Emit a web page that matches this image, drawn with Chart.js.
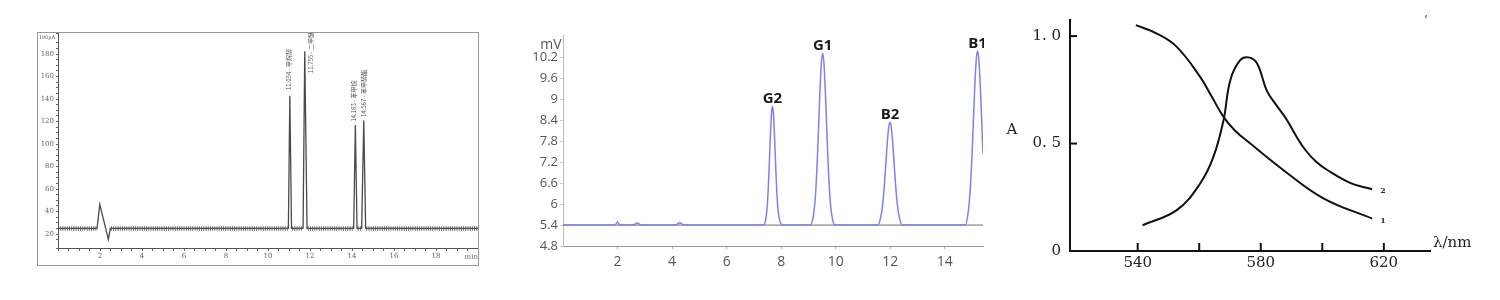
<!DOCTYPE html>
<html>
<head>
<meta charset="utf-8">
<script src="https://cdn.jsdelivr.net/npm/chart.js@4.4.1/dist/chart.umd.min.js"></script>
<style>
  body { margin: 0; width: 1500px; height: 300px; background: #fff; position: relative; overflow: hidden; }
  .box { position: absolute; }
  .frame { border: 1px solid #9a9a9a; box-sizing: border-box; }
</style>
</head>
<body>
<div class="box frame" style="left:37px;top:32px;width:442px;height:234px">
  <canvas id="c1" width="440" height="232"></canvas>
</div>
<div class="box" style="left:530px;top:20px;width:454px;height:260px">
  <canvas id="c2" width="454" height="260"></canvas>
</div>
<div class="box" style="left:1000px;top:0;width:500px;height:300px">
  <canvas id="c3" width="500" height="300"></canvas>
</div>
<script>
// ---- panel 1: FID chromatogram (pA vs min)
const fidTime   = [0, 1.86, 1.99, 2.40, 2.49, 10.97, 11.04, 11.12, 11.67, 11.75, 11.86, 14.08, 14.16, 14.24, 14.46, 14.56, 14.65, 20];
const fidSignal = [25, 25, 46.4, 15.3, 25, 25, 143, 25, 25, 182.5, 25, 25, 117, 25, 25, 121, 25, 25];
const bandStart = [0, 2.52, 11.15, 11.89, 14.27, 14.68];
const bandEnd   = [1.84, 10.94, 11.64, 14.05, 14.43, 20];
const bandLevel = 25;
const fidYTicksLabelled = [20, 40, 60, 80, 100, 120, 140, 160, 180];
const fidXTicksLabelled = [2, 4, 6, 8, 10, 12, 14, 16, 18];
const fidPeakNames = ['11.034 - 甲烷醇', '11.755 - 二甲醚', '14.183 - 苯甲烷', '14.567 - 苯甲醇酯'];
const fidLabelTime = [10.99, 12.03, 14.08, 14.56];
const fidLabelBase = [148, 163, 120, 124];

// ---- panel 2: UV chromatogram (mV)
const uvTime = [0, 1.9, 2.0, 2.08, 2.6, 2.72, 2.85, 3.4, 4.15, 4.28, 4.42, 5.0,
  7.36, 7.43, 7.48, 7.52, 7.56, 7.60, 7.64, 7.68, 7.72, 7.76, 7.80, 7.84, 7.89, 7.95, 8.05,
  9.07, 9.17, 9.25, 9.32, 9.37, 9.42, 9.47, 9.52, 9.57, 9.62, 9.67, 9.72, 9.79, 9.87, 9.97,
  11.54, 11.64, 11.72, 11.79, 11.84, 11.89, 11.94, 11.99, 12.04, 12.09, 12.14, 12.19, 12.26, 12.34, 12.44,
  14.75, 14.85, 14.93, 15.00, 15.05, 15.10, 15.15, 15.20, 15.25, 15.30, 15.35, 15.40];
const uvSignal = [5.4, 5.4, 5.49, 5.4, 5.41, 5.46, 5.41, 5.4, 5.41, 5.47, 5.41, 5.4,
  5.40, 5.55, 5.86, 6.35, 7.06, 7.88, 8.55, 8.81, 8.55, 7.88, 7.06, 6.35, 5.80, 5.52, 5.40,
  5.40, 5.62, 6.17, 7.18, 8.18, 9.22, 10.02, 10.33, 10.02, 9.22, 8.18, 7.18, 6.17, 5.62, 5.40,
  5.40, 5.59, 5.98, 6.61, 7.19, 7.76, 8.19, 8.35, 8.19, 7.76, 7.19, 6.61, 5.98, 5.59, 5.40,
  5.40, 5.73, 6.39, 7.45, 8.43, 9.40, 10.12, 10.40, 10.12, 9.40, 8.43, 7.45];
const uvBaseline = 5.4;
const uvYTicks = [4.8, 5.4, 6, 6.6, 7.2, 7.8, 8.4, 9, 9.6, 10.2];
const uvXTicks = [2, 4, 6, 8, 10, 12, 14];
const uvPeakNames = ['G2', 'G1', 'B2', 'B1'];
const uvPeakTime  = [7.68, 9.52, 11.99, 15.2];
const uvPeakTop   = [8.81, 10.33, 8.35, 10.40];

// ---- panel 3: absorption spectra
const curve1Nm = [539.4, 546.2, 552.7, 560.3, 564.0, 567.9, 571.5, 576.6, 587.4, 600.5, 616.2];
const curve1A  = [1.051, 1.012, 0.950, 0.810, 0.720, 0.624, 0.562, 0.500, 0.376, 0.244, 0.151];
const curve2Nm = [541.6, 552.7, 560.3, 564.6, 567.9, 570.1, 573.3, 576.0, 578.8, 582.0, 585.0, 588.5, 591.5, 594.5, 598.0, 601.6, 609.2, 616.2];
const curve2A  = [0.120, 0.190, 0.314, 0.438, 0.609, 0.795, 0.888, 0.901, 0.873, 0.745, 0.680, 0.610, 0.535, 0.470, 0.415, 0.377, 0.316, 0.287];
const specXTicks = [540, 560, 580, 600, 620];
const specXLabelled = [540, 580, 620];
const specYTicks = [0, 0.5, 1];
const specYLabels = ['0', '0. 5', '1. 0'];

const xy = (xs, ys) => xs.map((x, i) => ({ x, y: ys[i] }));
const fixBox = (w, h) => s => {
  if (w != null) s.width = w;
  if (h != null) s.height = h;
  s.paddingTop = s.paddingBottom = s.paddingLeft = s.paddingRight = 0;
};

// draws free text: data coords (data:true) or offsets from the chart area corner
const notes = {
  id: 'notes',
  afterDatasetsDraw(chart, args, opts) {
    const { ctx, chartArea, scales } = chart;
    (opts.items || []).forEach(it => {
      let px, py;
      if (it.data) {
        px = scales.x.getPixelForValue(it.x);
        py = scales.y.getPixelForValue(it.y);
      } else {
        px = (it.from === 'right' ? chartArea.right : chartArea.left) + it.x;
        py = (it.fromY === 'bottom' ? chartArea.bottom : chartArea.top) + it.y;
      }
      px += it.dx || 0; py += it.dy || 0;
      ctx.save();
      ctx.font = it.font;
      ctx.fillStyle = it.color || '#222';
      ctx.textAlign = it.align || 'center';
      ctx.textBaseline = it.baseline || 'alphabetic';
      ctx.translate(px, py);
      if (it.rotate) ctx.rotate(it.rotate);
      ctx.fillText(it.text, 0, 0);
      ctx.restore();
    });
  }
};

// tick marks pointing into the plot (panel 3)
const innerTicks = {
  id: 'innerTicks',
  afterDraw(chart) {
    const { ctx, chartArea, scales } = chart;
    ctx.save();
    ctx.strokeStyle = '#111';
    ctx.lineWidth = 2;
    scales.x.ticks.forEach(t => {
      const px = scales.x.getPixelForValue(t.value);
      ctx.beginPath(); ctx.moveTo(px, chartArea.bottom); ctx.lineTo(px, chartArea.bottom - 8); ctx.stroke();
    });
    scales.y.ticks.forEach(t => {
      if (t.value === 0) return;
      const py = scales.y.getPixelForValue(t.value);
      ctx.beginPath(); ctx.moveTo(chartArea.left, py); ctx.lineTo(chartArea.left + 7, py); ctx.stroke();
    });
    ctx.restore();
  }
};

const base = {
  responsive: false, animation: false, events: [],
};

// Panel 1
const band = [];
bandStart.forEach((s, i) => {
  band.push({ x: s, y: bandLevel }, { x: bandEnd[i], y: bandLevel }, { x: bandEnd[i], y: null });
});
const smallSerif = { family: 'DejaVu Serif', size: 7 };
new Chart(document.getElementById('c1'), {
  type: 'line',
  data: { datasets: [
    { data: band, borderColor: 'rgba(85,85,85,0.9)', borderWidth: 4.5, borderDash: [1, 1.2], pointRadius: 0, spanGaps: false },
    { data: xy(fidTime, fidSignal), borderColor: '#4a4a4a', borderWidth: 1.3, pointRadius: 0, tension: 0 },
  ]},
  options: {
    ...base,
    layout: { padding: { top: 0, right: 0, left: 0, bottom: 0 } },
    plugins: {
      legend: { display: false }, tooltip: { enabled: false },
      notes: { items: [
        { x: -3, y: 5, text: '190pA', font: '5px DejaVu Serif', color: '#555', align: 'right', baseline: 'middle' },
        { x: 0, y: 9, from: 'right', fromY: 'bottom', text: 'min', font: '7px DejaVu Serif', color: '#666', align: 'right', baseline: 'middle' },
        ...fidPeakNames.map((n, i) => ({ data: true, x: fidLabelTime[i], y: fidLabelBase[i], text: n,
          font: '6px "Noto Sans CJK SC"', color: '#555', align: 'left', baseline: 'middle', rotate: -Math.PI / 2 })),
      ]},
    },
    scales: {
      x: {
        type: 'linear', min: 0, max: 20, afterFit: fixBox(null, 17),
        ticks: { stepSize: 0.5, autoSkip: false, maxRotation: 0, padding: 1, color: '#666', font: smallSerif,
          callback: v => fidXTicksLabelled.includes(v) ? v : '' },
        grid: { drawOnChartArea: false, tickLength: 3, color: '#666' },
        border: { color: '#555' },
      },
      y: {
        min: 7.6, max: 198.7, afterFit: fixBox(20, null),
        ticks: { stepSize: 5, autoSkip: false, padding: 2, color: '#666', font: smallSerif,
          callback: v => fidYTicksLabelled.includes(v) ? v : '' },
        grid: { drawOnChartArea: false, tickLength: 2, color: '#666' },
        border: { color: '#555' },
      },
    },
  },
  plugins: [notes],
});

// Panel 2
new Chart(document.getElementById('c2'), {
  type: 'line',
  data: { datasets: [
    { data: xy(uvTime, uvSignal), borderColor: '#8080ec', borderWidth: 1.5, pointRadius: 0, cubicInterpolationMode: 'monotone' },
    { data: xy([0, 15.4], [uvBaseline, uvBaseline]), borderColor: 'rgba(60,60,60,0.75)', borderWidth: 1, pointRadius: 0 },
  ]},
  options: {
    ...base,
    layout: { padding: { top: 15, right: 1, left: 0, bottom: 0 } },
    plugins: {
      legend: { display: false }, tooltip: { enabled: false },
      notes: { items: [
        { x: -12, y: 10, text: 'mV', font: '14px "Open Sans"', color: '#555', align: 'center', baseline: 'middle' },
        ...uvPeakNames.map((n, i) => ({ data: true, x: uvPeakTime[i], y: uvPeakTop[i], dy: -3, text: n,
          font: 'bold 15px "Open Sans"', color: '#1a1a1a', align: 'center', baseline: 'alphabetic' })),
      ]},
    },
    scales: {
      x: {
        type: 'linear', min: 0, max: 15.4, afterFit: fixBox(null, 34),
        afterBuildTicks: s => { s.ticks = uvXTicks.map(v => ({ value: v })); },
        ticks: { padding: 5, maxRotation: 0, color: '#555', font: { family: 'Open Sans', size: 14 } },
        grid: { drawOnChartArea: false, tickLength: 3, color: '#aaa' },
        border: { color: '#999' },
      },
      y: {
        min: 4.8, max: 10.85, afterFit: fixBox(33, null),
        afterBuildTicks: s => { s.ticks = uvYTicks.map(v => ({ value: v })); },
        ticks: { padding: 2, color: '#555', font: { family: 'Open Sans', size: 13 },
          callback: v => String(Number(v.toFixed(1))) },
        grid: { drawOnChartArea: false, tickLength: 3, color: '#ccc' },
        border: { color: '#bbb' },
      },
    },
  },
  plugins: [notes],
});

// Panel 3
const serif = { family: 'DejaVu Serif', size: 15 };
new Chart(document.getElementById('c3'), {
  type: 'line',
  data: { datasets: [
    { data: xy(curve1Nm, curve1A), borderColor: '#111', borderWidth: 2, pointRadius: 0, tension: 0.4 },
    { data: xy(curve2Nm, curve2A), borderColor: '#111', borderWidth: 2, pointRadius: 0, tension: 0.4 },
  ]},
  options: {
    ...base,
    layout: { padding: { top: 20, right: 70, left: 0, bottom: 0 } },
    plugins: {
      legend: { display: false }, tooltip: { enabled: false },
      notes: { items: [
        { x: -58, y: 110, text: 'A', font: '15px "DejaVu Serif"', color: '#222', align: 'center', baseline: 'middle' },
        { x: 3, y: -8, from: 'right', fromY: 'bottom', text: 'λ/nm', font: '15px "DejaVu Serif"', color: '#222', align: 'left', baseline: 'middle' },
        { data: true, x: curve1Nm[curve1Nm.length - 1], y: curve1A[curve1A.length - 1], dx: 11, dy: 2, text: '1',
          font: 'bold 8px "DejaVu Serif"', color: '#333', align: 'center', baseline: 'middle' },
        { data: true, x: curve2Nm[curve2Nm.length - 1], y: curve2A[curve2A.length - 1], dx: 11, dy: 2, text: '2',
          font: 'bold 8px "DejaVu Serif"', color: '#333', align: 'center', baseline: 'middle' },
        { x: -4, y: 2, from: 'right', text: '\u2019', font: '12px "DejaVu Serif"', color: '#444', align: 'center', baseline: 'middle' },
      ]},
    },
    scales: {
      x: {
        type: 'linear', min: 518, max: 635, afterFit: fixBox(null, 49),
        afterBuildTicks: s => { s.ticks = specXTicks.map(v => ({ value: v })); },
        ticks: { padding: 3, maxRotation: 0, color: '#222', font: serif,
          callback: v => specXLabelled.includes(v) ? v : '' },
        grid: { display: false, drawTicks: false },
        border: { color: '#111', width: 2 },
      },
      y: {
        min: 0, max: 1.075, afterFit: fixBox(70, null),
        afterBuildTicks: s => { s.ticks = specYTicks.map(v => ({ value: v })); },
        ticks: { padding: 9, color: '#222', font: serif,
          callback: (v, i) => specYLabels[i] },
        grid: { display: false, drawTicks: false },
        border: { color: '#111', width: 2 },
      },
    },
  },
  plugins: [notes, innerTicks],
});
</script>
</body>
</html>
